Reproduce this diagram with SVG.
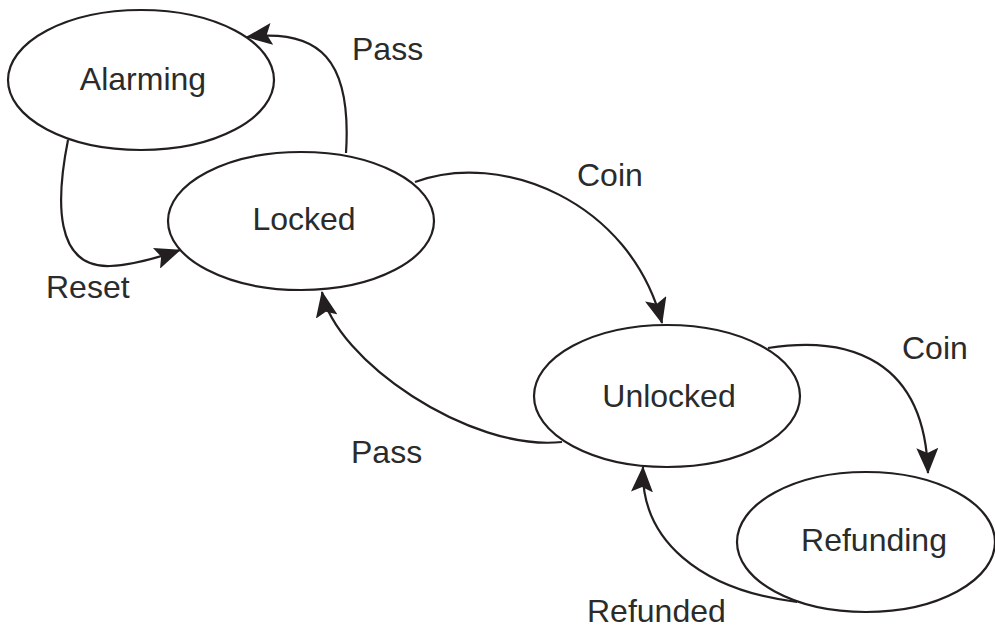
<svg xmlns="http://www.w3.org/2000/svg" width="995" height="629" viewBox="0 0 995 629">
<style>
.node{fill:#fff;stroke:#231f20;stroke-width:2.2}
.edge{fill:none;stroke:#231f20;stroke-width:2.2}
text{font-family:"Liberation Sans",Arial,sans-serif;font-size:32px;fill:#2b2b2b}
.nl{text-anchor:middle}
</style>
<defs>
<marker id="arr" markerUnits="userSpaceOnUse" viewBox="0 0 26 22" markerWidth="26" markerHeight="22" refX="25" refY="11" orient="auto">
<path d="M0,0 L26,11 L0,22 L5,11 z" fill="#231f20"/>
</marker>
</defs>
<rect width="995" height="629" fill="#fff"/>
<g id="alarming"><ellipse class="node" cx="141" cy="80" rx="133" ry="70"/><text class="nl" x="143" y="90">Alarming</text></g>
<g id="locked"><ellipse class="node" cx="301" cy="221" rx="133" ry="69"/><text class="nl" x="304" y="230">Locked</text></g>
<g id="unlocked"><ellipse class="node" cx="667" cy="396" rx="133" ry="71"/><text class="nl" x="669" y="407">Unlocked</text></g>
<g id="refunding"><ellipse class="node" cx="866" cy="542" rx="129" ry="70"/><text class="nl" x="874" y="551">Refunding</text></g>
<g id="connectors">
<path class="edge" marker-end="url(#arr)" d="M346,153 C352,60 320,28 247,37"/>
<path class="edge" marker-end="url(#arr)" d="M68,140 C56,200 54,268 110,266 C135,265 160,257 180,250"/>
<path class="edge" marker-end="url(#arr)" d="M415,182 C500,150 630,200 662,323"/>
<path class="edge" marker-end="url(#arr)" d="M562,442 C470,452 335,360 322,292"/>
<path class="edge" marker-end="url(#arr)" d="M768,348 C850,335 925,360 928,473"/>
<path class="edge" marker-end="url(#arr)" d="M797,602 C700,590 640,540 643,467"/>
<text x="352" y="60">Pass</text>
<text x="46" y="298">Reset</text>
<text x="577" y="186">Coin</text>
<text x="351" y="463">Pass</text>
<text x="902" y="359">Coin</text>
<text x="587" y="622">Refunded</text>
</g>
</svg>
